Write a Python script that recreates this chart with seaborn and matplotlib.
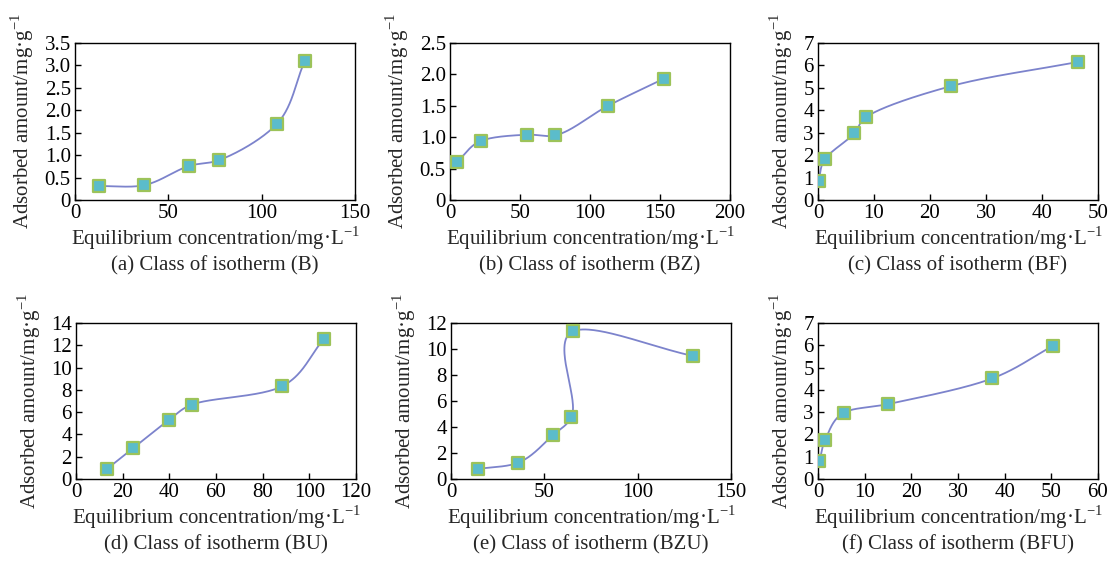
import numpy as np
import pandas as pd
import matplotlib
matplotlib.use("Agg")
import matplotlib.pyplot as plt
import seaborn as sns
from matplotlib.ticker import FuncFormatter

# ── Data (equilibrium conc., adsorbed amount) ────────────────────────────────
a_x = [13.0, 37.0, 61.2, 77.3, 108.0, 123.0]
a_y = [0.31, 0.33, 0.76, 0.89, 1.69, 3.09]

b_x = [5.2, 22.0, 54.8, 75.2, 112.9, 152.6]
b_y = [0.61, 0.94, 1.04, 1.03, 1.50, 1.93]

c_x = [0.1, 1.2, 6.5, 8.6, 23.8, 46.5]
c_y = [0.85, 1.81, 2.97, 3.70, 5.08, 6.16]

d_x = [13.4, 24.6, 40.0, 49.6, 88.2, 106.3]
d_y = [0.92, 2.78, 5.32, 6.67, 8.31, 12.57]

e_x = [14.3, 36.1, 54.5, 64.5, 65.6, 129.8]
e_y = [0.77, 1.26, 3.36, 4.77, 11.38, 9.46]

f_x = [0.3, 1.5, 5.5, 15.0, 37.3, 50.4]
f_y = [0.79, 1.73, 2.97, 3.36, 4.51, 5.98]

titles = ["(a) Class of isotherm (B)", "(b) Class of isotherm (BZ)",
          "(c) Class of isotherm (BF)", "(d) Class of isotherm (BU)",
          "(e) Class of isotherm (BZU)", "(f) Class of isotherm (BFU)"]
x_lims = [(0, 150), (0, 200), (0, 50), (0, 120), (0, 150), (0, 60)]
x_steps = [50, 50, 10, 20, 50, 10]
y_lims = [(0, 3.5), (0, 2.5), (0, 7), (0, 14), (0, 12), (0, 7)]
y_steps = [0.5, 0.5, 1, 2, 2, 1]

LINE_C = "#7c83cc"
FACE_C = "#5bbccb"
EDGE_C = "#9cc35a"
FS = 15


def smooth_curve(x, y, xr, yr, n=60):
    """Centripetal Catmull-Rom through the points, worked out in axis units."""
    p = np.column_stack([np.asarray(x) / xr, np.asarray(y) / yr])
    p = np.vstack([2 * p[0] - p[1], p, 2 * p[-1] - p[-2]])
    out = []
    for k in range(1, len(p) - 2):
        p0, p1, p2, p3 = p[k - 1], p[k], p[k + 1], p[k + 2]
        t0 = 0.0
        t1 = t0 + np.linalg.norm(p1 - p0) ** 0.5
        t2 = t1 + np.linalg.norm(p2 - p1) ** 0.5
        t3 = t2 + np.linalg.norm(p3 - p2) ** 0.5
        t = np.linspace(t1, t2, n)[:, None]
        a1 = (t1 - t) / (t1 - t0) * p0 + (t - t0) / (t1 - t0) * p1
        a2 = (t2 - t) / (t2 - t1) * p1 + (t - t1) / (t2 - t1) * p2
        a3 = (t3 - t) / (t3 - t2) * p2 + (t - t2) / (t3 - t2) * p3
        b1 = (t2 - t) / (t2 - t0) * a1 + (t - t0) / (t2 - t0) * a2
        b2 = (t3 - t) / (t3 - t1) * a2 + (t - t1) / (t3 - t1) * a3
        out.append((t2 - t) / (t2 - t1) * b1 + (t - t1) / (t2 - t1) * b2)
    c = np.vstack(out)
    return c[:, 0] * xr, c[:, 1] * yr


sns.set_theme(style="ticks")
plt.rcParams["font.family"] = ["Liberation Serif", "DejaVu Serif"]
plt.rcParams["mathtext.fontset"] = "custom"
plt.rcParams["mathtext.rm"] = "Liberation Serif"
plt.rcParams["font.size"] = FS

fig = plt.figure(figsize=(11.1, 5.61), dpi=100)
W, H = 1110, 561
# axes boxes in pixels: left, top, right, bottom
boxes = [(75, 43, 355, 200), (450, 43, 730, 200), (818, 43, 1098, 200),
         (76, 323, 356, 479), (451, 323, 731, 479), (818, 323, 1098, 479)]
series = [(a_x, a_y), (b_x, b_y), (c_x, c_y), (d_x, d_y), (e_x, e_y), (f_x, f_y)]

for i, ((xs, ys), (l, t, r, b)) in enumerate(zip(series, boxes)):
    ax = fig.add_axes([l / W, 1 - b / H, (r - l) / W, (b - t) / H])
    cx, cy = smooth_curve(xs, ys, x_lims[i][1], y_lims[i][1])
    sns.lineplot(x=cx, y=cy, sort=False, estimator=None,
                 color=LINE_C, lw=1.3, ax=ax)
    df = pd.DataFrame({"x": xs, "y": ys})
    sns.scatterplot(data=df, x="x", y="y", marker="s", s=75, color=FACE_C,
                    edgecolor=EDGE_C, linewidth=1.6, ax=ax, zorder=3)

    ax.set_xlim(*x_lims[i])
    ax.set_ylim(*y_lims[i])
    ax.set_xticks(np.arange(x_lims[i][0], x_lims[i][1] + 1e-9, x_steps[i]))
    ax.set_yticks(np.arange(y_lims[i][0], y_lims[i][1] + 1e-9, y_steps[i]))
    dec = 1 if y_steps[i] < 1 else 0
    ax.yaxis.set_major_formatter(FuncFormatter(
        lambda v, _, dec=dec: "0" if abs(v) < 1e-9 else f"{v:.{dec}f}"))
    ax.tick_params(direction="in", length=4, width=1, pad=3, labelsize=FS,
                   colors="black")
    for s in ax.spines.values():
        s.set_linewidth(1)
        s.set_color("black")
    ax.set_xlabel("Equilibrium concentration/mg·L$^{-1}$", fontsize=FS, labelpad=1)
    ax.set_ylabel("Adsorbed amount/mg·g$^{-1}$", fontsize=FS, labelpad=6)
    ax.annotate(titles[i], xy=(0.5, 0), xycoords="axes fraction",
                xytext=(0, -47), textcoords="offset points",
                ha="center", va="center", fontsize=FS)

fig.savefig("out.png", dpi=100)
